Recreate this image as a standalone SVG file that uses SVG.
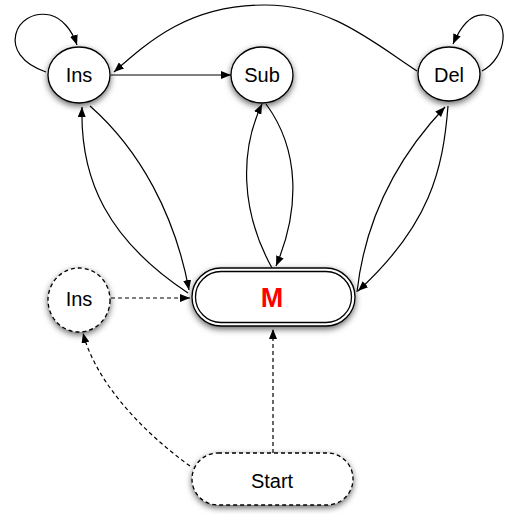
<svg xmlns="http://www.w3.org/2000/svg" width="510" height="514" viewBox="0 0 510 514">
  <style>
    .node { fill: #ffffff; stroke: #000000; stroke-width: 1.3; }
    .dashed { stroke-dasharray: 4 3; }
    .label { font-family: "Liberation Sans", Arial, sans-serif; font-size: 20px; fill: #000000; text-anchor: middle; }
    .big { font-family: "Liberation Sans", Arial, sans-serif; font-size: 27px; font-weight: bold; fill: #ff0000; text-anchor: middle; }
    .edge { fill: none; stroke: #000000; stroke-width: 1.2; }
  </style>
  <defs>
    <marker id="arrow" viewBox="0 0 10 8" refX="10" refY="4" markerWidth="10" markerHeight="8" markerUnits="userSpaceOnUse" orient="auto">
      <path d="M0,0 L10,4 L0,8 Z" fill="#000000"/>
    </marker>
    <filter id="shadow" x="-30%" y="-30%" width="160%" height="170%">
      <feDropShadow dx="0" dy="2.5" stdDeviation="3" flood-color="#000000" flood-opacity="0.6"/>
    </filter>
  </defs>

  <rect width="510" height="514" fill="#ffffff"/>

  <g id="connectors">
    <!-- self loops -->
    <path class="edge" d="M46,72 C-5,55 15,8 50,15 C62,18 72,30 77,45" marker-end="url(#arrow)"/>
    <path class="edge" d="M482,71 C507,58 512,18 485,15 C470,13 460,28 453,44" marker-end="url(#arrow)"/>
    <!-- Del to Ins over the top -->
    <path class="edge" d="M417,71 C370,40 330,5 265,5 C190,5 150,40 114,72" marker-end="url(#arrow)"/>
    <!-- Ins to Sub -->
    <line class="edge" x1="111" y1="75" x2="231" y2="75" marker-end="url(#arrow)"/>
    <!-- Ins and M -->
    <path class="edge" d="M188,293 C108,240 80,180 82,107" marker-end="url(#arrow)"/>
    <path class="edge" d="M90,106 C140,150 175,215 189,290" marker-end="url(#arrow)"/>
    <!-- Sub and M -->
    <path class="edge" d="M272,268 C240,210 240,150 262,104" marker-end="url(#arrow)"/>
    <path class="edge" d="M266,104 C300,150 300,210 276,266" marker-end="url(#arrow)"/>
    <!-- Del and M -->
    <path class="edge" d="M357,292 C365,220 395,160 445,107" marker-end="url(#arrow)"/>
    <path class="edge" d="M448,106 C443,170 430,225 358,291" marker-end="url(#arrow)"/>
    <!-- dashed start paths -->
    <line class="edge dashed" x1="111" y1="298" x2="190" y2="298" marker-end="url(#arrow)"/>
    <line class="edge dashed" x1="273" y1="453" x2="273" y2="329" marker-end="url(#arrow)"/>
    <path class="edge dashed" d="M190,466 C140,430 95,380 83,333" marker-end="url(#arrow)"/>
  </g>

  <g id="node-ins">
    <ellipse class="node" cx="79" cy="75" rx="31" ry="28" filter="url(#shadow)"/>
    <text class="label" x="79" y="82">Ins</text>
  </g>
  <g id="node-sub">
    <ellipse class="node" cx="262" cy="75" rx="31" ry="28" filter="url(#shadow)"/>
    <text class="label" x="262" y="82">Sub</text>
  </g>
  <g id="node-del">
    <ellipse class="node" cx="449" cy="74" rx="31" ry="27" filter="url(#shadow)"/>
    <text class="label" x="449" y="82">Del</text>
  </g>
  <g id="node-m">
    <rect class="node" x="192" y="268" width="163" height="58" rx="29" ry="29" filter="url(#shadow)"/>
    <rect class="node" x="195.5" y="271.5" width="156" height="51" rx="25.5" ry="25.5"/>
    <text class="big" x="272" y="307">M</text>
  </g>
  <g id="node-ins-start">
    <ellipse class="node dashed" cx="79" cy="300" rx="31" ry="32" filter="url(#shadow)"/>
    <text class="label" x="79" y="306">Ins</text>
  </g>
  <g id="node-start">
    <rect class="node dashed" x="192" y="453" width="161" height="52" rx="26" ry="26" filter="url(#shadow)"/>
    <text class="label" x="272" y="488">Start</text>
  </g>
</svg>
